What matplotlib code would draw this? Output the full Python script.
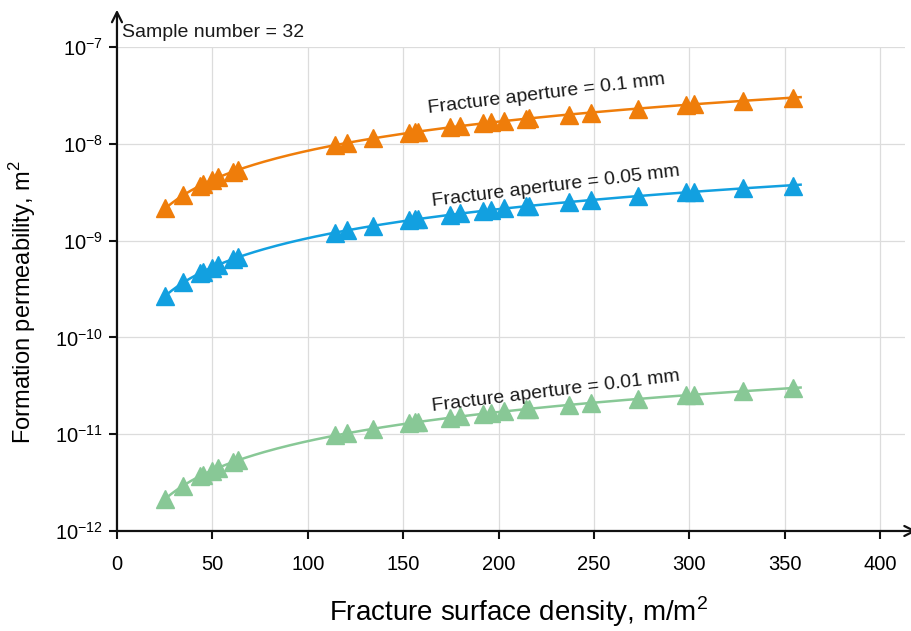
import matplotlib
matplotlib.use("Agg")
import matplotlib.pyplot as plt
import numpy as np
from matplotlib.ticker import LogLocator, NullLocator, LogFormatterMathtext

plt.rcParams['font.family'] = ['Liberation Sans', 'DejaVu Sans']
plt.rcParams['mathtext.fontset'] = 'custom'
plt.rcParams['mathtext.rm'] = 'Liberation Sans'

# fracture surface density, m/m2
density = [25.2, 34.6, 43.6, 45.1, 49.9, 53.0, 60.9, 63.5, 114.4, 120.7, 134.4,
           152.8, 156.4, 158.0, 174.8, 180.0, 191.6, 195.8, 202.6, 214.2, 215.7,
           236.7, 248.3, 273.0, 298.2, 302.4, 328.0, 354.3]

# formation permeability, m2
perm_01 = [2.15e-9, 2.95e-9, 3.7e-9, 3.8e-9, 4.2e-9, 4.5e-9, 5.1e-9, 5.4e-9,
           9.7e-9, 1.02e-8, 1.14e-8, 1.3e-8, 1.33e-8, 1.34e-8, 1.48e-8, 1.53e-8,
           1.63e-8, 1.66e-8, 1.72e-8, 1.82e-8, 1.83e-8, 2.0e-8, 2.1e-8, 2.3e-8,
           2.52e-8, 2.56e-8, 2.78e-8, 3.0e-8]
perm_005 = [2.7e-10, 3.7e-10, 4.6e-10, 4.75e-10, 5.25e-10, 5.6e-10, 6.4e-10, 6.7e-10,
            1.21e-9, 1.28e-9, 1.42e-9, 1.62e-9, 1.66e-9, 1.68e-9, 1.85e-9, 1.91e-9,
            2.04e-9, 2.08e-9, 2.15e-9, 2.28e-9, 2.29e-9, 2.5e-9, 2.62e-9, 2.88e-9,
            3.15e-9, 3.2e-9, 3.47e-9, 3.65e-9]
perm_001 = [2.15e-12, 2.95e-12, 3.7e-12, 3.8e-12, 4.2e-12, 4.5e-12, 5.1e-12, 5.4e-12,
            9.7e-12, 1.02e-11, 1.14e-11, 1.3e-11, 1.33e-11, 1.34e-11, 1.48e-11, 1.53e-11,
            1.63e-11, 1.66e-11, 1.72e-11, 1.82e-11, 1.83e-11, 2.0e-11, 2.1e-11, 2.3e-11,
            2.52e-11, 2.56e-11, 2.78e-11, 3.0e-11]

series = [
    (perm_01, '#ef7d0a', 'Fracture aperture = 0.1 mm', 225, 3.25e-8),
    (perm_005, '#12a0e0', 'Fracture aperture = 0.05 mm', 230, 3.65e-9),
    (perm_001, '#88c896', 'Fracture aperture = 0.01 mm', 230, 2.75e-11),
]

fig = plt.figure(figsize=(9.11, 6.31), dpi=100)
ax = fig.add_axes([0.1284, 0.1585, 0.865, 0.767])

x = np.array(density)
xs = np.linspace(x.min(), x.max() + 4, 200)
for vals, col, lab, tx, ty in series:
    # power-law trend line fitted to the points
    b, a = np.polyfit(np.log(x), np.log(vals), 1)
    ax.plot(xs, np.exp(a) * xs ** b, color=col, lw=1.8, zorder=3)
    ax.plot(density, vals, ls='none', marker='^', ms=13, color=col,
            markeredgecolor=col, zorder=4)
    ax.text(tx, ty, lab, rotation=7, ha='center', va='center',
            rotation_mode='anchor', fontsize=14, color='#1a1a1a', zorder=5)

ax.set_yscale('log')
ax.set_xlim(0, 413)
ax.set_ylim(1e-12, 1e-7)
ax.set_xticks([0, 50, 100, 150, 200, 250, 300, 350, 400])
ax.yaxis.set_major_locator(LogLocator(base=10, numticks=10))
ax.yaxis.set_major_formatter(LogFormatterMathtext())
ax.yaxis.set_minor_locator(NullLocator())
ax.grid(True, color='#dcdcdc', lw=0.9)
ax.set_axisbelow(True)

for s in ['top', 'right', 'left', 'bottom']:
    ax.spines[s].set_visible(False)
ax.tick_params(axis='both', width=1.5, length=6, labelsize=14.5, color='#111111')
ax.tick_params(axis='x', pad=11)
ax.tick_params(axis='y', pad=4)

ax.annotate('', xy=(0, 1.077), xytext=(0, 0), xycoords='axes fraction',
            arrowprops=dict(arrowstyle='->', lw=1.6, color='#111111',
                            mutation_scale=18, shrinkA=0, shrinkB=0))
ax.annotate('', xy=(1.015, 0), xytext=(0, 0), xycoords='axes fraction',
            arrowprops=dict(arrowstyle='->', lw=1.6, color='#111111',
                            mutation_scale=18, shrinkA=0, shrinkB=0))

ax.text(0.006, 1.029, 'Sample number = 32', transform=ax.transAxes,
        ha='left', va='center', fontsize=14, color='#1a1a1a')

ax.set_xlabel('Fracture surface density, m/m$^2$', fontsize=20)
ax.set_ylabel('Formation permeability, m$^2$', fontsize=17)
ax.xaxis.set_label_coords(0.51, -0.131)
ax.yaxis.set_label_coords(-0.1, 0.473)

fig.savefig('out.png', dpi=100)
